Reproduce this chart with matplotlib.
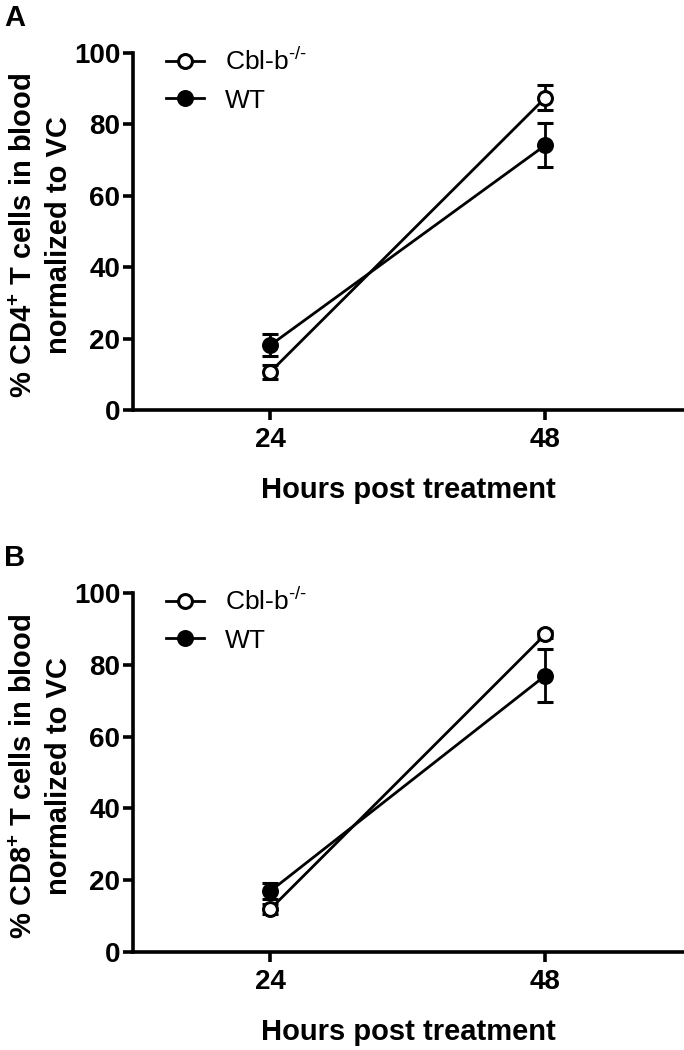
import matplotlib.pyplot as plt
from matplotlib.lines import Line2D
import numpy as np

plt.rcParams['font.family'] = ['Liberation Sans', 'DejaVu Sans']
plt.rcParams['mathtext.fontset'] = 'custom'
plt.rcParams['mathtext.rm'] = 'Liberation Sans'
plt.rcParams['mathtext.bf'] = 'Liberation Sans:bold'

# time points (hours)
hours = np.array([24, 48])

# panel A: CD4+
cd4_cblb = np.array([10.7, 87.5])
cd4_cblb_err = np.array([2.0, 3.5])
cd4_wt = np.array([18.2, 74.2])
cd4_wt_err = np.array([3.2, 6.2])

# panel B: CD8+
cd8_cblb = np.array([12.0, 88.5])
cd8_cblb_err = np.array([1.5, 1.0])
cd8_wt = np.array([17.0, 77.0])
cd8_wt_err = np.array([2.2, 7.5])

ylabels = ['% CD4$^{\\mathbf{+}}$ T cells in blood\nnormalized to VC',
           '% CD8$^{\\mathbf{+}}$ T cells in blood\nnormalized to VC']
panel_letters = ['A', 'B']
legend_labels = ['Cbl-b$^{\\text{-/-}}$', 'WT']

fig = plt.figure(figsize=(6.84, 10.5), dpi=100)
ax_a = fig.add_axes([0.1944, 0.6095, 0.804, 0.34])
ax_b = fig.add_axes([0.1944, 0.0933, 0.804, 0.342])

panels = [
    (ax_a, cd4_cblb, cd4_cblb_err, cd4_wt, cd4_wt_err),
    (ax_b, cd8_cblb, cd8_cblb_err, cd8_wt, cd8_wt_err),
]

letter_y = [0.996, 0.482]

for i, (ax, kb, kb_err, wt, wt_err) in enumerate(panels):
    ax.errorbar(hours, kb, yerr=kb_err, color='black', lw=2,
                marker='o', ms=10, mfc='white', mec='black', mew=2.2,
                capsize=6, capthick=2, elinewidth=2,
                zorder=3, clip_on=False)
    ax.errorbar(hours, wt, yerr=wt_err, color='black', lw=2,
                marker='o', ms=10, mfc='black', mec='black', mew=2.2,
                capsize=6, capthick=2, elinewidth=2,
                zorder=4, clip_on=False)

    ax.set_xlim(12, 60)
    ax.set_ylim(0, 100)
    ax.set_xticks([24, 48])
    ax.set_yticks([0, 20, 40, 60, 80, 100])
    ax.spines['top'].set_visible(False)
    ax.spines['right'].set_visible(False)
    ax.spines['left'].set_linewidth(2.6)
    ax.spines['bottom'].set_linewidth(2.6)
    ax.tick_params(width=2.6, length=7, labelsize=20, pad=2)
    ax.tick_params(axis='x', pad=5)
    for lab in ax.get_xticklabels() + ax.get_yticklabels():
        lab.set_fontweight('bold')

    ax.set_xlabel('Hours post treatment', fontsize=21, fontweight='bold')
    ax.xaxis.set_label_coords(0.5, -0.185)
    ax.set_ylabel(ylabels[i], fontsize=21, fontweight='bold',
                  linespacing=1.3, va='center')
    ax.yaxis.set_label_coords(-0.166, 0.49)

    handles = [
        Line2D([], [], color='black', lw=2, marker='o', ms=10,
               mfc='white', mec='black', mew=2.2),
        Line2D([], [], color='black', lw=2, marker='o', ms=10,
               mfc='black', mec='black', mew=2.2),
    ]
    ax.legend(handles, legend_labels, loc='upper left',
              bbox_to_anchor=(0.06, 1.015), frameon=False, fontsize=19,
              handlelength=1.45, handletextpad=0.8, labelspacing=0.5,
              borderpad=0, borderaxespad=0)

    fig.text(0.006, letter_y[i], panel_letters[i], fontsize=21,
             fontweight='bold', va='top', ha='left')

fig.savefig('out.png', dpi=100)
